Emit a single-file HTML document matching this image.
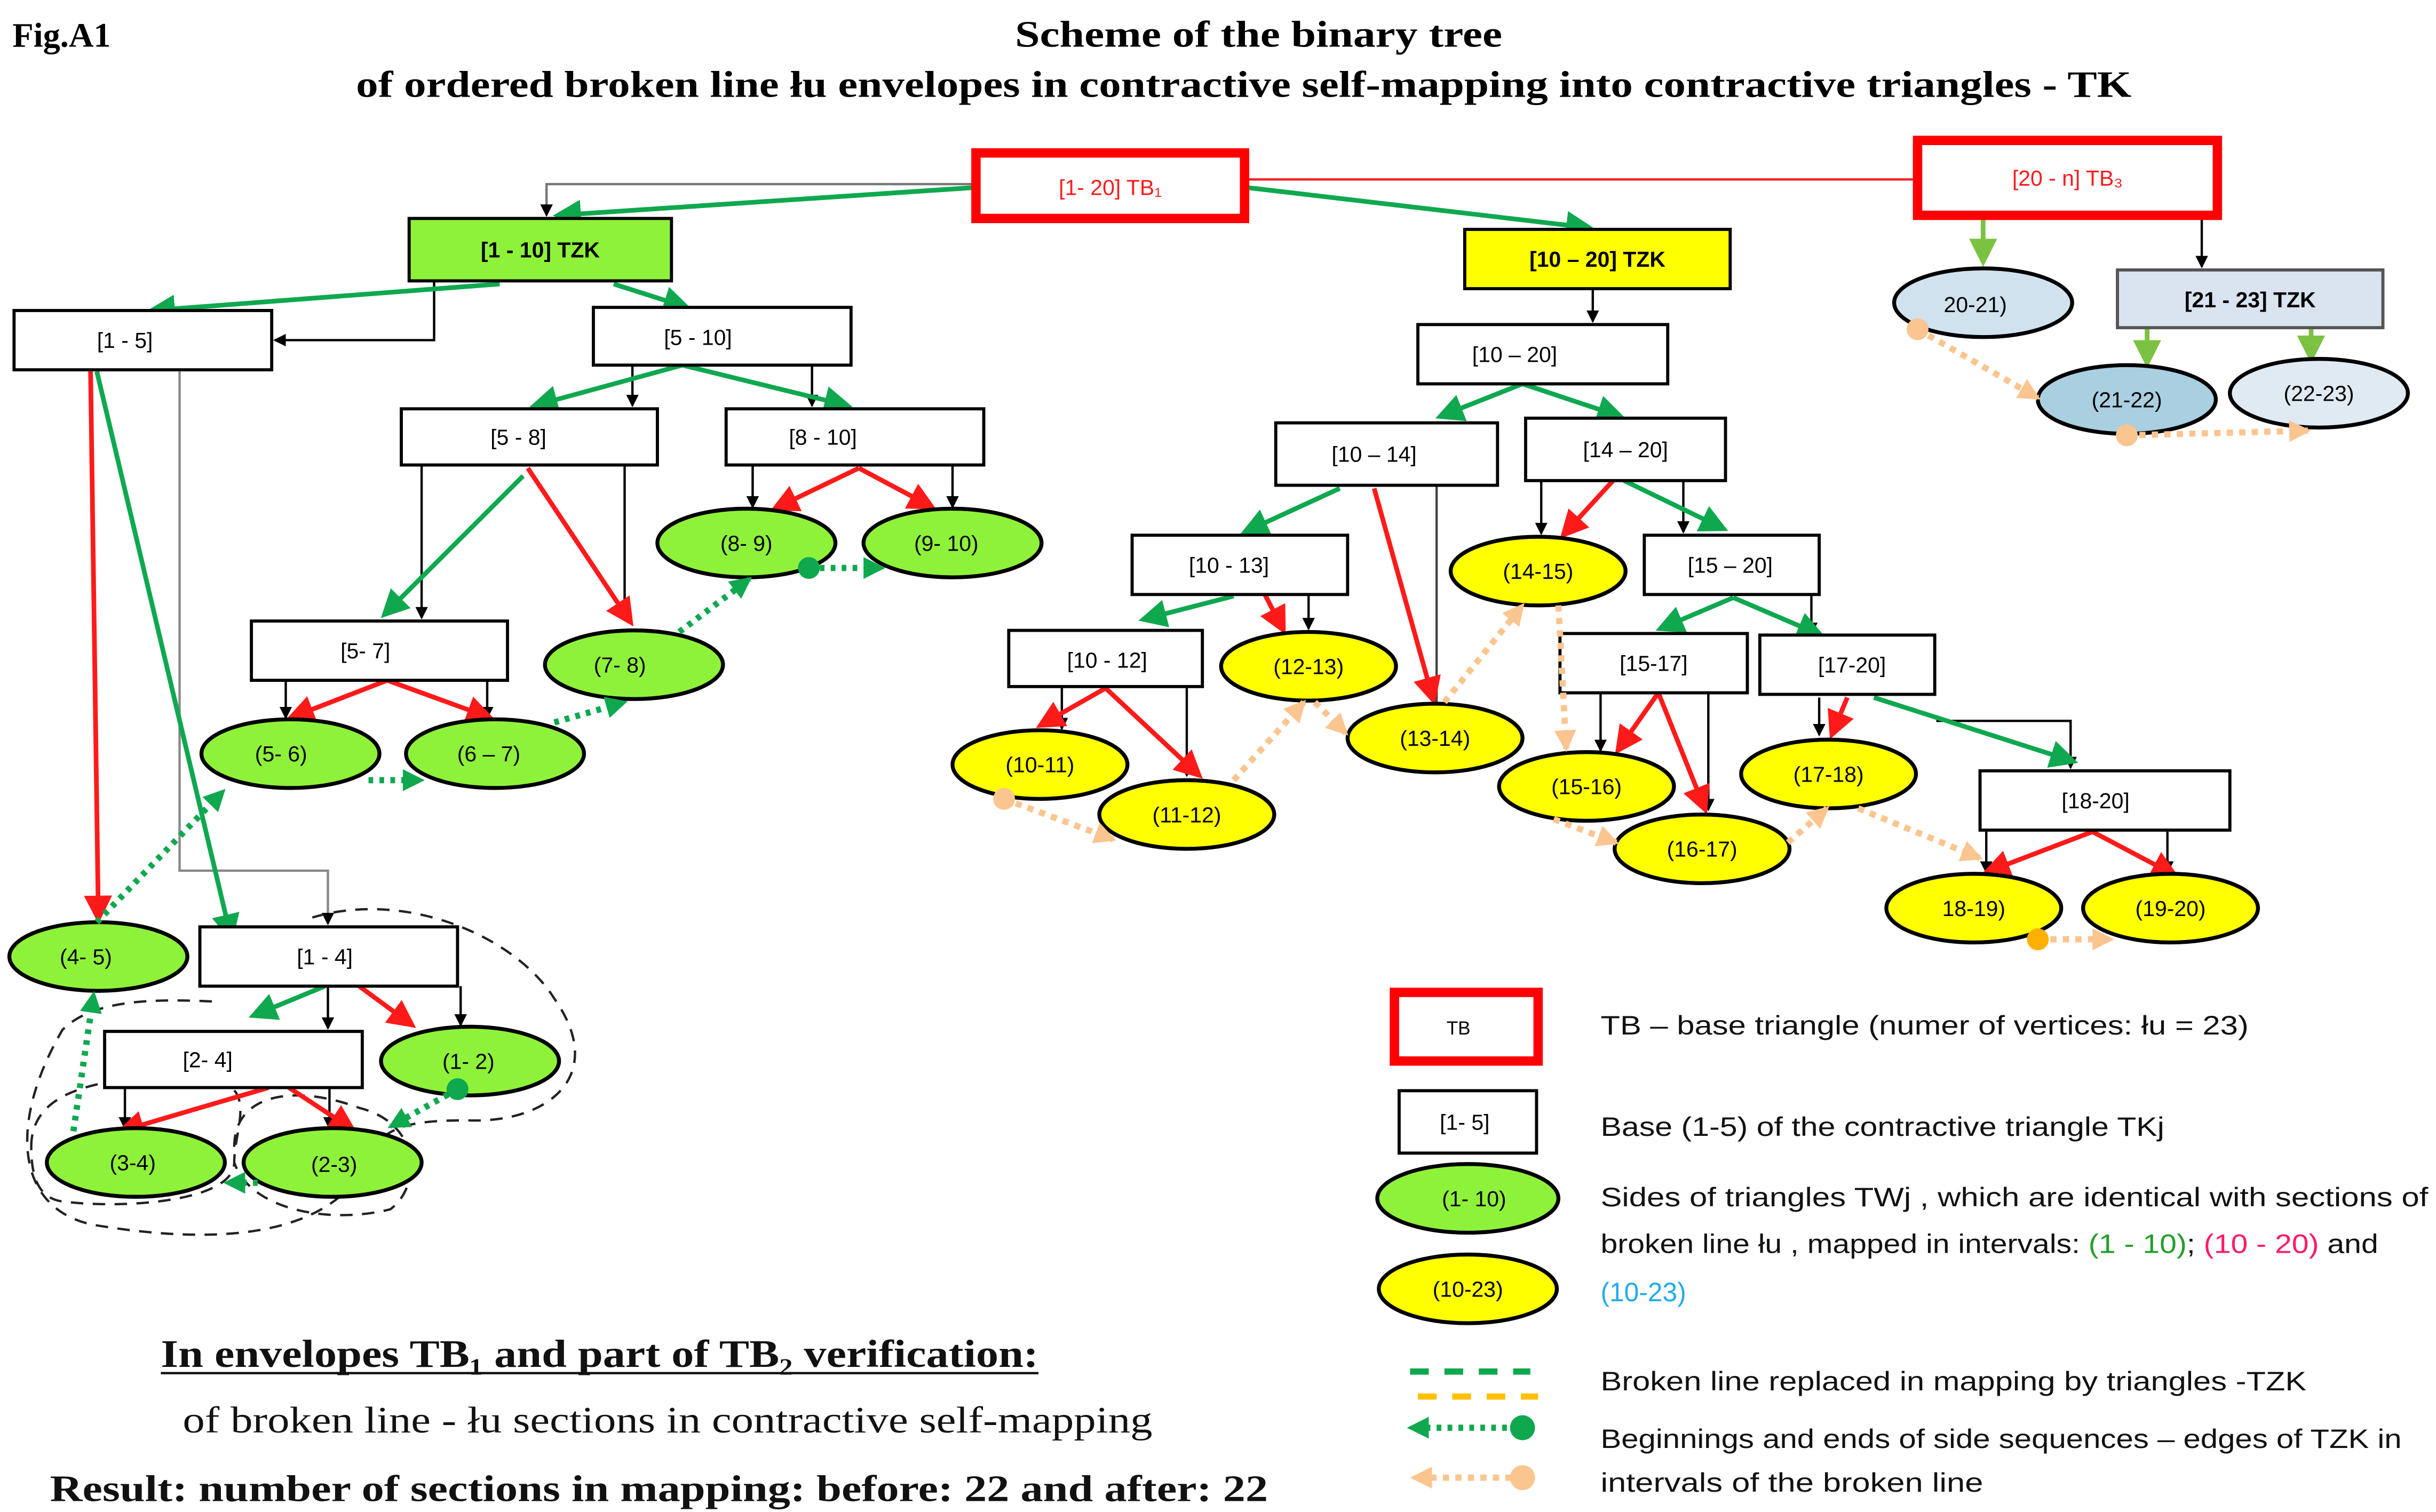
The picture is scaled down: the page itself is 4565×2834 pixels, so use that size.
<!DOCTYPE html>
<html><head><meta charset="utf-8"><style>
html,body{margin:0;padding:0;background:#fff;}
svg{display:block;}
text{font-family:"Liberation Sans",sans-serif;}
.s{font-family:"Liberation Serif",serif;}
</style></head><body>
<svg width="4565" height="2834" viewBox="0 0 1560 969" preserveAspectRatio="none" xmlns="http://www.w3.org/2000/svg">
<defs>
<marker id="g" markerWidth="6" markerHeight="6" refX="5" refY="3" orient="auto" markerUnits="strokeWidth"><path d="M0,0 L6,3 L0,6z" fill="#0fa84f"/></marker>
<marker id="gd" markerWidth="14" markerHeight="14" refX="12" refY="7" orient="auto" markerUnits="userSpaceOnUse"><path d="M0,0 L14,7 L0,14z" fill="#0fa84f"/></marker>
<marker id="r" markerWidth="6" markerHeight="6" refX="5" refY="3" orient="auto" markerUnits="strokeWidth"><path d="M0,0 L6,3 L0,6z" fill="#ff1a1a"/></marker>
<marker id="k" markerWidth="8" markerHeight="8" refX="7" refY="4" orient="auto" markerUnits="userSpaceOnUse"><path d="M0,0 L8,4 L0,8z" fill="#000"/></marker>
<marker id="lg" markerWidth="6" markerHeight="6" refX="5" refY="3" orient="auto" markerUnits="strokeWidth"><path d="M0,0 L6,3 L0,6z" fill="#7cc242"/></marker>
<marker id="o" markerWidth="14" markerHeight="14" refX="12" refY="7" orient="auto" markerUnits="userSpaceOnUse"><path d="M0,0 L14,7 L0,14z" fill="#fbc590"/></marker>
</defs>
<rect width="1560" height="969" fill="#fff"/>
<text x="8" y="30" class="s" font-size="22" font-weight="bold">Fig.A1</text>
<text x="650" y="30" class="s" font-size="24" font-weight="bold" textLength="312" lengthAdjust="spacingAndGlyphs">Scheme of the binary tree</text>
<text x="228" y="62" class="s" font-size="24" font-weight="bold" textLength="1137" lengthAdjust="spacingAndGlyphs">of ordered broken line łu envelopes in contractive self-mapping into contractive triangles - TK</text>

<g fill="none" stroke="#000" stroke-width="1.5">
<path d="M625,118 H350 V138" stroke="#777" marker-end="url(#k)"/>
<path d="M278,180 V218 H176" marker-end="url(#k)"/>
<path d="M405,234 V260" marker-end="url(#k)"/>
<path d="M520,234 V260" marker-end="url(#k)"/>
<path d="M270,298 V396" marker-end="url(#k)"/>
<path d="M400,298 V396" marker-end="url(#k)"/>
<path d="M482,298 V325" marker-end="url(#k)"/>
<path d="M610,298 V325" marker-end="url(#k)"/>
<path d="M183,436 V460" marker-end="url(#k)"/>
<path d="M312,436 V460" marker-end="url(#k)"/>
<path d="M115,238 V558 H210 V592" stroke="#888" marker-end="url(#k)"/>
<path d="M295,632 V657" marker-end="url(#k)"/>
<path d="M210,632 V659" marker-end="url(#k)"/>
<path d="M80,697 V723" marker-end="url(#k)"/>
<path d="M211,697 V723" marker-end="url(#k)"/>
<path d="M1020,185 V206" marker-end="url(#k)"/>
<path d="M920,311 V470" stroke="#444"/>
<path d="M987,308 V342" marker-end="url(#k)"/>
<path d="M1078,308 V341" marker-end="url(#k)"/>
<path d="M838,381 V403" marker-end="url(#k)"/>
<path d="M680,441 V467" marker-end="url(#k)"/>
<path d="M760,441 V497" marker-end="url(#k)"/>
<path d="M1160,381 V406" marker-end="url(#k)"/>
<path d="M1025,444 V481" marker-end="url(#k)"/>
<path d="M1094,444 V519" marker-end="url(#k)"/>
<path d="M1165,447 V471" marker-end="url(#k)"/>
<path d="M1240,462 H1326 V492" marker-end="url(#k)"/>
<path d="M1272,533 V559" marker-end="url(#k)"/>
<path d="M1388,533 V559" marker-end="url(#k)"/>
<path d="M1410,138 V171" marker-end="url(#k)"/>
</g>
<line x1="797" y1="115" x2="1228" y2="115" stroke="#e22" stroke-width="1.5"/>

<g fill="none" stroke="#222" stroke-width="1.5" stroke-dasharray="8,6">
<path d="M200,588 C260,570 330,600 355,640 C390,690 350,720 300,718 C270,718 250,720 240,735 C220,790 150,800 60,785 C10,775 5,720 40,660 C60,640 100,640 140,642"/>
<path d="M20,735 C20,700 60,690 120,690 C170,690 150,720 150,745 C150,770 80,775 40,770 C25,768 20,755 20,735z"/>
<path d="M150,735 C150,700 190,695 230,710 C270,720 270,760 250,775 C210,785 160,775 150,745"/>
</g>

<g stroke="#0fa84f" stroke-width="3" fill="none" marker-end="url(#g)">
<line x1="627" y1="120" x2="357" y2="138"/>
<line x1="797" y1="120" x2="1018" y2="146"/>
<line x1="320" y1="182" x2="97" y2="199"/>
<line x1="393" y1="182" x2="440" y2="197"/>
<line x1="437" y1="234" x2="342" y2="260"/>
<line x1="437" y1="234" x2="543" y2="260"/>
<line x1="335" y1="305" x2="246" y2="394"/>
<line x1="62" y1="238" x2="148" y2="601"/>
<line x1="975" y1="246" x2="922" y2="267"/>
<line x1="975" y1="246" x2="1038" y2="267"/>
<line x1="858" y1="313" x2="797" y2="341"/>
<line x1="1040" y1="308" x2="1104" y2="339"/>
<line x1="790" y1="382" x2="732" y2="397"/>
<line x1="1110" y1="383" x2="1063" y2="403"/>
<line x1="1110" y1="383" x2="1166" y2="407"/>
<line x1="1200" y1="447" x2="1328" y2="488"/>
<line x1="208" y1="632" x2="162" y2="651"/>
</g>
<g stroke="#7cc242" stroke-width="3" marker-end="url(#lg)">
<line x1="1270" y1="140" x2="1270" y2="168"/>
<line x1="1375" y1="210" x2="1375" y2="233"/>
<line x1="1480" y1="210" x2="1480" y2="230"/>
</g>
<g stroke="#ff1a1a" stroke-width="3" fill="none" marker-end="url(#r)">
<line x1="58" y1="238" x2="63" y2="589"/>
<line x1="338" y1="300" x2="404" y2="399"/>
<line x1="550" y1="300" x2="496" y2="326"/>
<line x1="550" y1="300" x2="597" y2="325"/>
<line x1="248" y1="436" x2="186" y2="460"/>
<line x1="248" y1="436" x2="314" y2="460"/>
<line x1="880" y1="313" x2="918" y2="449"/>
<line x1="810" y1="381" x2="822" y2="404"/>
<line x1="1033" y1="308" x2="1001" y2="343"/>
<line x1="1062" y1="444" x2="1036" y2="481"/>
<line x1="1062" y1="444" x2="1092" y2="519"/>
<line x1="1183" y1="447" x2="1173" y2="471"/>
<line x1="708" y1="441" x2="666" y2="465"/>
<line x1="708" y1="441" x2="768" y2="497"/>
<line x1="1340" y1="533" x2="1272" y2="559"/>
<line x1="1340" y1="533" x2="1393" y2="561"/>
<line x1="230" y1="632" x2="264" y2="657"/>
<line x1="172" y1="697" x2="77" y2="725"/>
<line x1="185" y1="697" x2="226" y2="724"/>
</g>

<g stroke="#000" stroke-width="2" fill="#fff">
<rect x="262" y="140" width="168" height="40" fill="#8ff23a"/>
<rect x="938" y="147" width="170" height="38" fill="#ffff00"/>
<rect x="1356" y="173" width="170" height="37" fill="#dae3f0" stroke="#555"/>
<rect x="9" y="199" width="165" height="38"/>
<rect x="380" y="197" width="165" height="37"/>
<rect x="257" y="262" width="164" height="36"/>
<rect x="465" y="262" width="165" height="36"/>
<rect x="161" y="398" width="164" height="38"/>
<rect x="128" y="594" width="165" height="38"/>
<rect x="67" y="661" width="165" height="36"/>
<rect x="908" y="208" width="160" height="38"/>
<rect x="817" y="271" width="142" height="40"/>
<rect x="977" y="268" width="128" height="40"/>
<rect x="725" y="343" width="138" height="38"/>
<rect x="1053" y="343" width="112" height="38"/>
<rect x="646" y="404" width="124" height="36"/>
<rect x="999" y="406" width="120" height="38"/>
<rect x="1127" y="407" width="112" height="38"/>
<rect x="1268" y="494" width="160" height="38"/>
<rect x="896" y="699" width="88" height="40"/>
</g>
<g stroke="#ff0000" stroke-width="6" fill="#fff">
<rect x="625" y="98" width="172" height="42"/>
<rect x="1228" y="90" width="192" height="48"/>
<rect x="893" y="636" width="92" height="44"/>
</g>

<g stroke="#000" stroke-width="2.5">
<g fill="#8ff23a">
<ellipse cx="478" cy="348" rx="57" ry="22"/><ellipse cx="610" cy="348" rx="57" ry="22"/>
<ellipse cx="406" cy="426" rx="57" ry="22"/><ellipse cx="186" cy="483" rx="57" ry="22"/>
<ellipse cx="317" cy="483" rx="57" ry="22"/><ellipse cx="63" cy="613" rx="57" ry="22"/>
<ellipse cx="301" cy="680" rx="57" ry="22"/><ellipse cx="87" cy="745" rx="57" ry="22"/>
<ellipse cx="213" cy="745" rx="57" ry="22"/><ellipse cx="940" cy="768" rx="58" ry="22"/>
</g>
<g fill="#ffff00">
<ellipse cx="985" cy="366" rx="56" ry="22"/><ellipse cx="838" cy="427" rx="56" ry="22"/>
<ellipse cx="919" cy="473" rx="56" ry="22"/><ellipse cx="666" cy="490" rx="56" ry="22"/>
<ellipse cx="760" cy="522" rx="56" ry="22"/><ellipse cx="1016" cy="504" rx="56" ry="22"/>
<ellipse cx="1090" cy="544" rx="56" ry="22"/><ellipse cx="1171" cy="496" rx="56" ry="22"/>
<ellipse cx="1264" cy="582" rx="56" ry="22"/><ellipse cx="1390" cy="582" rx="56" ry="22"/>
<ellipse cx="940" cy="826" rx="57" ry="22"/>
</g>
<ellipse cx="1270" cy="194" rx="57" ry="22" fill="#cfe2ee"/>
<ellipse cx="1362" cy="256" rx="57" ry="22" fill="#a9cfe0"/>
<ellipse cx="1485" cy="252" rx="57" ry="22" fill="#dfeaf2"/>
</g>

<g stroke="#0fa84f" stroke-width="4" stroke-dasharray="3,4" fill="none" marker-end="url(#gd)">
<line x1="62" y1="591" x2="143" y2="507"/>
<line x1="236" y1="500" x2="270" y2="500"/>
<line x1="355" y1="463" x2="400" y2="450"/>
<line x1="435" y1="405" x2="480" y2="371"/>
<line x1="518" y1="364" x2="565" y2="364"/>
<line x1="293" y1="698" x2="250" y2="722"/>
<line x1="165" y1="758" x2="145" y2="758"/>
<line x1="47" y1="725" x2="60" y2="637"/>
<line x1="965" y1="915" x2="903" y2="915"/>
</g>
<g fill="#0fa84f"><circle cx="518" cy="364" r="7"/><circle cx="293" cy="698" r="7"/><circle cx="975" cy="915" r="8"/></g>

<g stroke="#fbc590" stroke-width="4" stroke-dasharray="4,4" fill="none" marker-end="url(#o)">
<line x1="643" y1="512" x2="713" y2="538"/>
<line x1="790" y1="500" x2="835" y2="450"/>
<line x1="842" y1="450" x2="862" y2="470"/>
<line x1="925" y1="450" x2="975" y2="388"/>
<line x1="998" y1="388" x2="1003" y2="480"/>
<line x1="995" y1="525" x2="1035" y2="540"/>
<line x1="1145" y1="540" x2="1170" y2="518"/>
<line x1="1190" y1="518" x2="1268" y2="550"/>
<line x1="1305" y1="602" x2="1352" y2="602"/>
<line x1="1228" y1="211" x2="1305" y2="255"/>
<line x1="1362" y1="279" x2="1478" y2="276"/>
<line x1="968" y1="947" x2="905" y2="947"/>
</g>
<g fill="#fbc590"><circle cx="643" cy="512" r="7"/><circle cx="1362" cy="279" r="7"/><circle cx="1228" cy="211" r="7"/><circle cx="975" cy="947" r="8"/></g>
<circle cx="1305" cy="602" r="7" fill="#ffb000"/>
<line x1="903" y1="879" x2="980" y2="879" stroke="#0fa84f" stroke-width="4" stroke-dasharray="12,10"/>
<line x1="908" y1="895" x2="985" y2="895" stroke="#ffc000" stroke-width="4" stroke-dasharray="12,10"/>

<g font-size="14" text-anchor="middle" fill="#000">
<text x="711" y="125" fill="#ff1a1a">[1- 20] TB₁</text>
<text x="1324" y="119" fill="#ff1a1a">[20 - n] TB₃</text>
<text x="346" y="165" font-weight="bold">[1 - 10] TZK</text>
<text x="1023" y="171" font-weight="bold">[10 – 20] TZK</text>
<text x="1441" y="197" font-weight="bold">[21 - 23] TZK</text>
<text x="80" y="223">[1 - 5]</text>
<text x="447" y="221">[5 - 10]</text>
<text x="332" y="285">[5 - 8]</text>
<text x="527" y="285">[8 - 10]</text>
<text x="234" y="422">[5- 7]</text>
<text x="208" y="618">[1 - 4]</text>
<text x="133" y="684">[2- 4]</text>
<text x="970" y="232">[10 – 20]</text>
<text x="880" y="296">[10 – 14]</text>
<text x="1041" y="293">[14 – 20]</text>
<text x="787" y="367">[10 - 13]</text>
<text x="1108" y="367">[15 – 20]</text>
<text x="709" y="428">[10 - 12]</text>
<text x="1059" y="430">[15-17]</text>
<text x="1186" y="431">[17-20]</text>
<text x="1342" y="518">[18-20]</text>
<text x="934" y="663" font-size="12">TB</text>
<text x="938" y="724">[1- 5]</text>
<text x="478" y="353">(8- 9)</text><text x="606" y="353">(9- 10)</text>
<text x="397" y="431">(7- 8)</text><text x="180" y="488">(5- 6)</text>
<text x="313" y="488">(6 – 7)</text><text x="55" y="618">(4- 5)</text>
<text x="300" y="685">(1- 2)</text><text x="85" y="750">(3-4)</text>
<text x="214" y="751">(2-3)</text><text x="944" y="773">(1- 10)</text>
<text x="985" y="371">(14-15)</text><text x="838" y="432">(12-13)</text>
<text x="919" y="478">(13-14)</text><text x="666" y="495">(10-11)</text>
<text x="760" y="527">(11-12)</text><text x="1016" y="509">(15-16)</text>
<text x="1090" y="549">(16-17)</text><text x="1171" y="501">(17-18)</text>
<text x="1264" y="587">18-19)</text><text x="1390" y="587">(19-20)</text>
<text x="940" y="831">(10-23)</text>
<text x="1265" y="200">20-21)</text><text x="1362" y="261">(21-22)</text><text x="1485" y="257">(22-23)</text>
</g>

<g font-size="17" fill="#111" lengthAdjust="spacingAndGlyphs">
<text x="1025" y="663" textLength="415" lengthAdjust="spacingAndGlyphs">TB – base triangle  (numer of vertices: łu = 23)</text>
<text x="1025" y="728" textLength="361" lengthAdjust="spacingAndGlyphs">Base (1-5) of the contractive triangle TKj</text>
<text x="1025" y="773" textLength="530" lengthAdjust="spacingAndGlyphs">Sides of triangles TWj , which are identical with sections of</text>
<text x="1025" y="803" textLength="498" lengthAdjust="spacingAndGlyphs">broken line łu , mapped in intervals: <tspan fill="#22a02a">(1 - 10)</tspan>; <tspan fill="#ff1a6a">(10 - 20)</tspan>  and</text>
<text x="1025" y="834" fill="#22aaee">(10-23)</text>
<text x="1025" y="891" textLength="452" lengthAdjust="spacingAndGlyphs">Broken line replaced in mapping by triangles -TZK</text>
<text x="1025" y="928" textLength="513" lengthAdjust="spacingAndGlyphs">Beginnings and ends of side sequences – edges of TZK in</text>
<text x="1025" y="956" textLength="245" lengthAdjust="spacingAndGlyphs">intervals of the broken line</text>
</g>

<g fill="#111">
<text x="103" y="876" font-size="25" class="s" font-weight="bold" textLength="562" lengthAdjust="spacingAndGlyphs">In envelopes TB₁ and part of TB₂ verification:</text>
<line x1="103" y1="880" x2="665" y2="880" stroke="#111" stroke-width="1.5"/>
<text x="117" y="918" font-size="24" class="s" textLength="621" lengthAdjust="spacingAndGlyphs">of broken line - łu sections in contractive self-mapping</text>
<text x="32" y="962" font-size="24" font-weight="bold" class="s" textLength="780" lengthAdjust="spacingAndGlyphs">Result: number of sections in mapping:  before: 22 and after: 22</text>
</g>
</svg>
</body></html>
